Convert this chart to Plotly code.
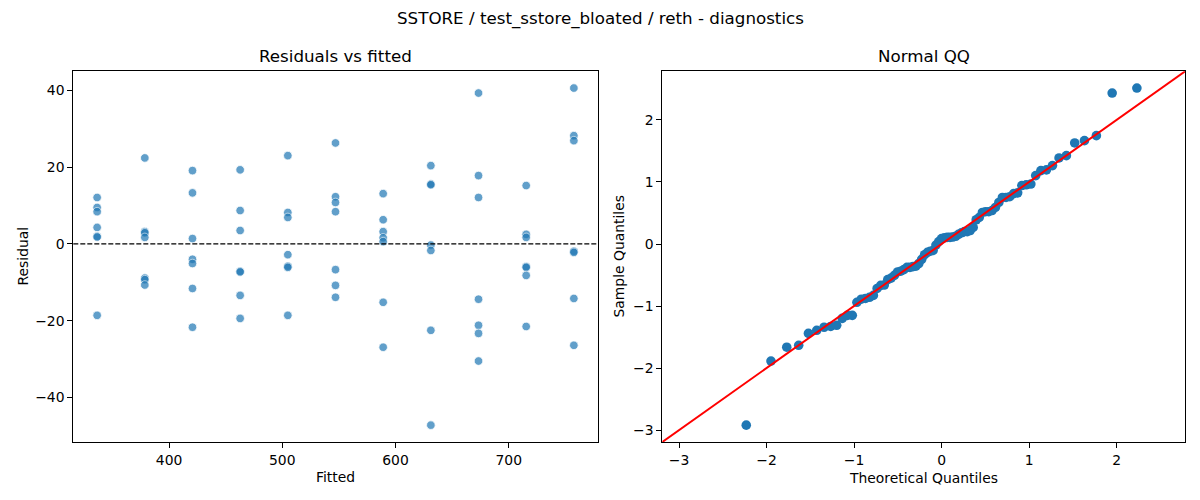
import statistics
import plotly.graph_objects as go

# ---------------- data ----------------
fitted_levels = [336.5, 378.6, 420.7, 462.8, 504.9, 547.0, 589.1, 631.2, 673.3, 715.4, 757.5]

residuals_by_level = [
    [12.1, 9.5, 8.4, 4.3, 2.0, 1.8, -18.6],
    [22.4, 3.2, 2.9, 1.7, -8.9, -9.3, -10.7],
    [19.1, 13.3, 1.4, -4.0, -5.1, -11.6, -21.7],
    [19.3, 8.7, 3.5, -7.1, -7.3, -13.4, -19.4],
    [23.0, 8.2, 6.9, -2.8, -5.8, -6.1, -18.6],
    [26.3, 12.3, 10.8, 8.4, -6.7, -10.8, -13.9],
    [13.1, 6.3, 3.2, 1.6, 0.6, -15.2, -26.9],
    [20.4, 15.6, 15.4, -0.3, -1.7, -22.5, -47.2],
    [39.3, 17.8, 12.1, -14.4, -21.2, -23.3, -30.5],
    [15.2, 2.5, 1.7, -5.9, -6.1, -8.2, -21.5],
    [40.6, 28.2, 26.9, -1.9, -2.2, -14.2, -26.4],
]

left_x_ticks = [400, 500, 600, 700]
left_y_ticks = [-40, -20, 0, 20, 40]
qq_ticks = [-3, -2, -1, 0, 1, 2]

suptitle = "SSTORE / test_sstore_bloated / reth - diagnostics"
left_title = "Residuals vs fitted"
right_title = "Normal QQ"

# ---------------- derived ----------------
fitted = []
resid = []
for lvl, rs in zip(fitted_levels, residuals_by_level):
    for r in rs:
        fitted.append(lvl)
        resid.append(r)

n = len(resid)
mean = sum(resid) / n
std = (sum((r - mean) ** 2 for r in resid) / n) ** 0.5
sample_q = sorted((r - mean) / std for r in resid)
nd = statistics.NormalDist()
theo_q = [nd.inv_cdf(i / (n + 1)) for i in range(1, n + 1)]


def padded(vals, frac=0.05):
    lo, hi = min(vals), max(vals)
    d = (hi - lo) * frac
    return lo - d, hi + d


lx = padded(fitted)
ly = padded(resid)
qx = padded(theo_q)
qy = padded(sample_q)
qlo = min(qx[0], qy[0])
qhi = max(qx[1], qy[1])

# ---------------- figure ----------------
FONT = "DejaVu Sans"
W, H = 1200, 500
fig = go.Figure()

fig.add_trace(go.Scatter(
    x=fitted, y=resid, mode="markers", xaxis="x", yaxis="y",
    marker=dict(size=8.6, color="#1f77b4", opacity=0.7,
                line=dict(color="white", width=0.8)),
    showlegend=False, hoverinfo="x+y"))

fig.add_trace(go.Scatter(
    x=theo_q, y=sample_q, mode="markers", xaxis="x2", yaxis="y2",
    marker=dict(size=9.6, color="#1f77b4", line=dict(width=0)),
    showlegend=False, hoverinfo="x+y"))

fig.add_trace(go.Scatter(
    x=[qlo, qhi], y=[qlo, qhi], mode="lines", xaxis="x2", yaxis="y2",
    line=dict(color="red", width=2), showlegend=False, hoverinfo="skip"))

fig.add_shape(type="line", xref="x domain", yref="y", x0=0, x1=1, y0=0, y1=0,
              line=dict(color="black", width=1.3, dash="5px,2px"))

dom_l = [73.3 / W, 597.7 / W]
dom_r = [662.3 / W, 1185.3 / W]
dom_y = [1 - 442 / H, 1 - 71.2 / H]

axis_common = dict(
    showgrid=False, zeroline=False, showline=True, linecolor="black",
    linewidth=1, mirror=True, ticks="outside", ticklen=5, tickwidth=1,
    tickcolor="black", tickfont=dict(family=FONT, size=13.9, color="black"),
)

fig.update_layout(
    width=W, height=H,
    margin=dict(l=0, r=0, t=0, b=0),
    paper_bgcolor="white", plot_bgcolor="white",
    font=dict(family=FONT, color="black"),
    xaxis=dict(domain=dom_l, range=list(lx), tickvals=left_x_ticks,
               anchor="y", **axis_common),
    yaxis=dict(domain=dom_y, range=list(ly), tickvals=left_y_ticks,
               anchor="x", **axis_common),
    xaxis2=dict(domain=dom_r, range=[qlo, qhi], tickvals=qq_ticks,
                anchor="y2", **axis_common),
    yaxis2=dict(domain=dom_y, range=[qlo, qhi], tickvals=qq_ticks,
                anchor="x2", **axis_common),
)


def ann(text, px, py, size, angle=0):
    fig.add_annotation(text=text, x=px / W, y=1 - py / H, xref="paper", yref="paper",
                       xanchor="center", yanchor="middle", showarrow=False,
                       textangle=angle, font=dict(family=FONT, size=size, color="black"))


ann(suptitle, 600, 18.5, 16.7)
ann(left_title, 335.5, 56, 16.7)
ann(right_title, 923.8, 56, 16.7)
ann("Fitted", 335.5, 477, 13.9)
ann("Residual", 22, 256.5, 13.9, -90)
ann("Theoretical Quantiles", 923.8, 478, 13.9)
ann("Sample Quantiles", 618, 256.5, 13.9, -90)

fig.write_html(
    "out.html",
    config={"displayModeBar": False},
    post_script="document.body.style.margin='0';document.body.style.padding='0';",
)
